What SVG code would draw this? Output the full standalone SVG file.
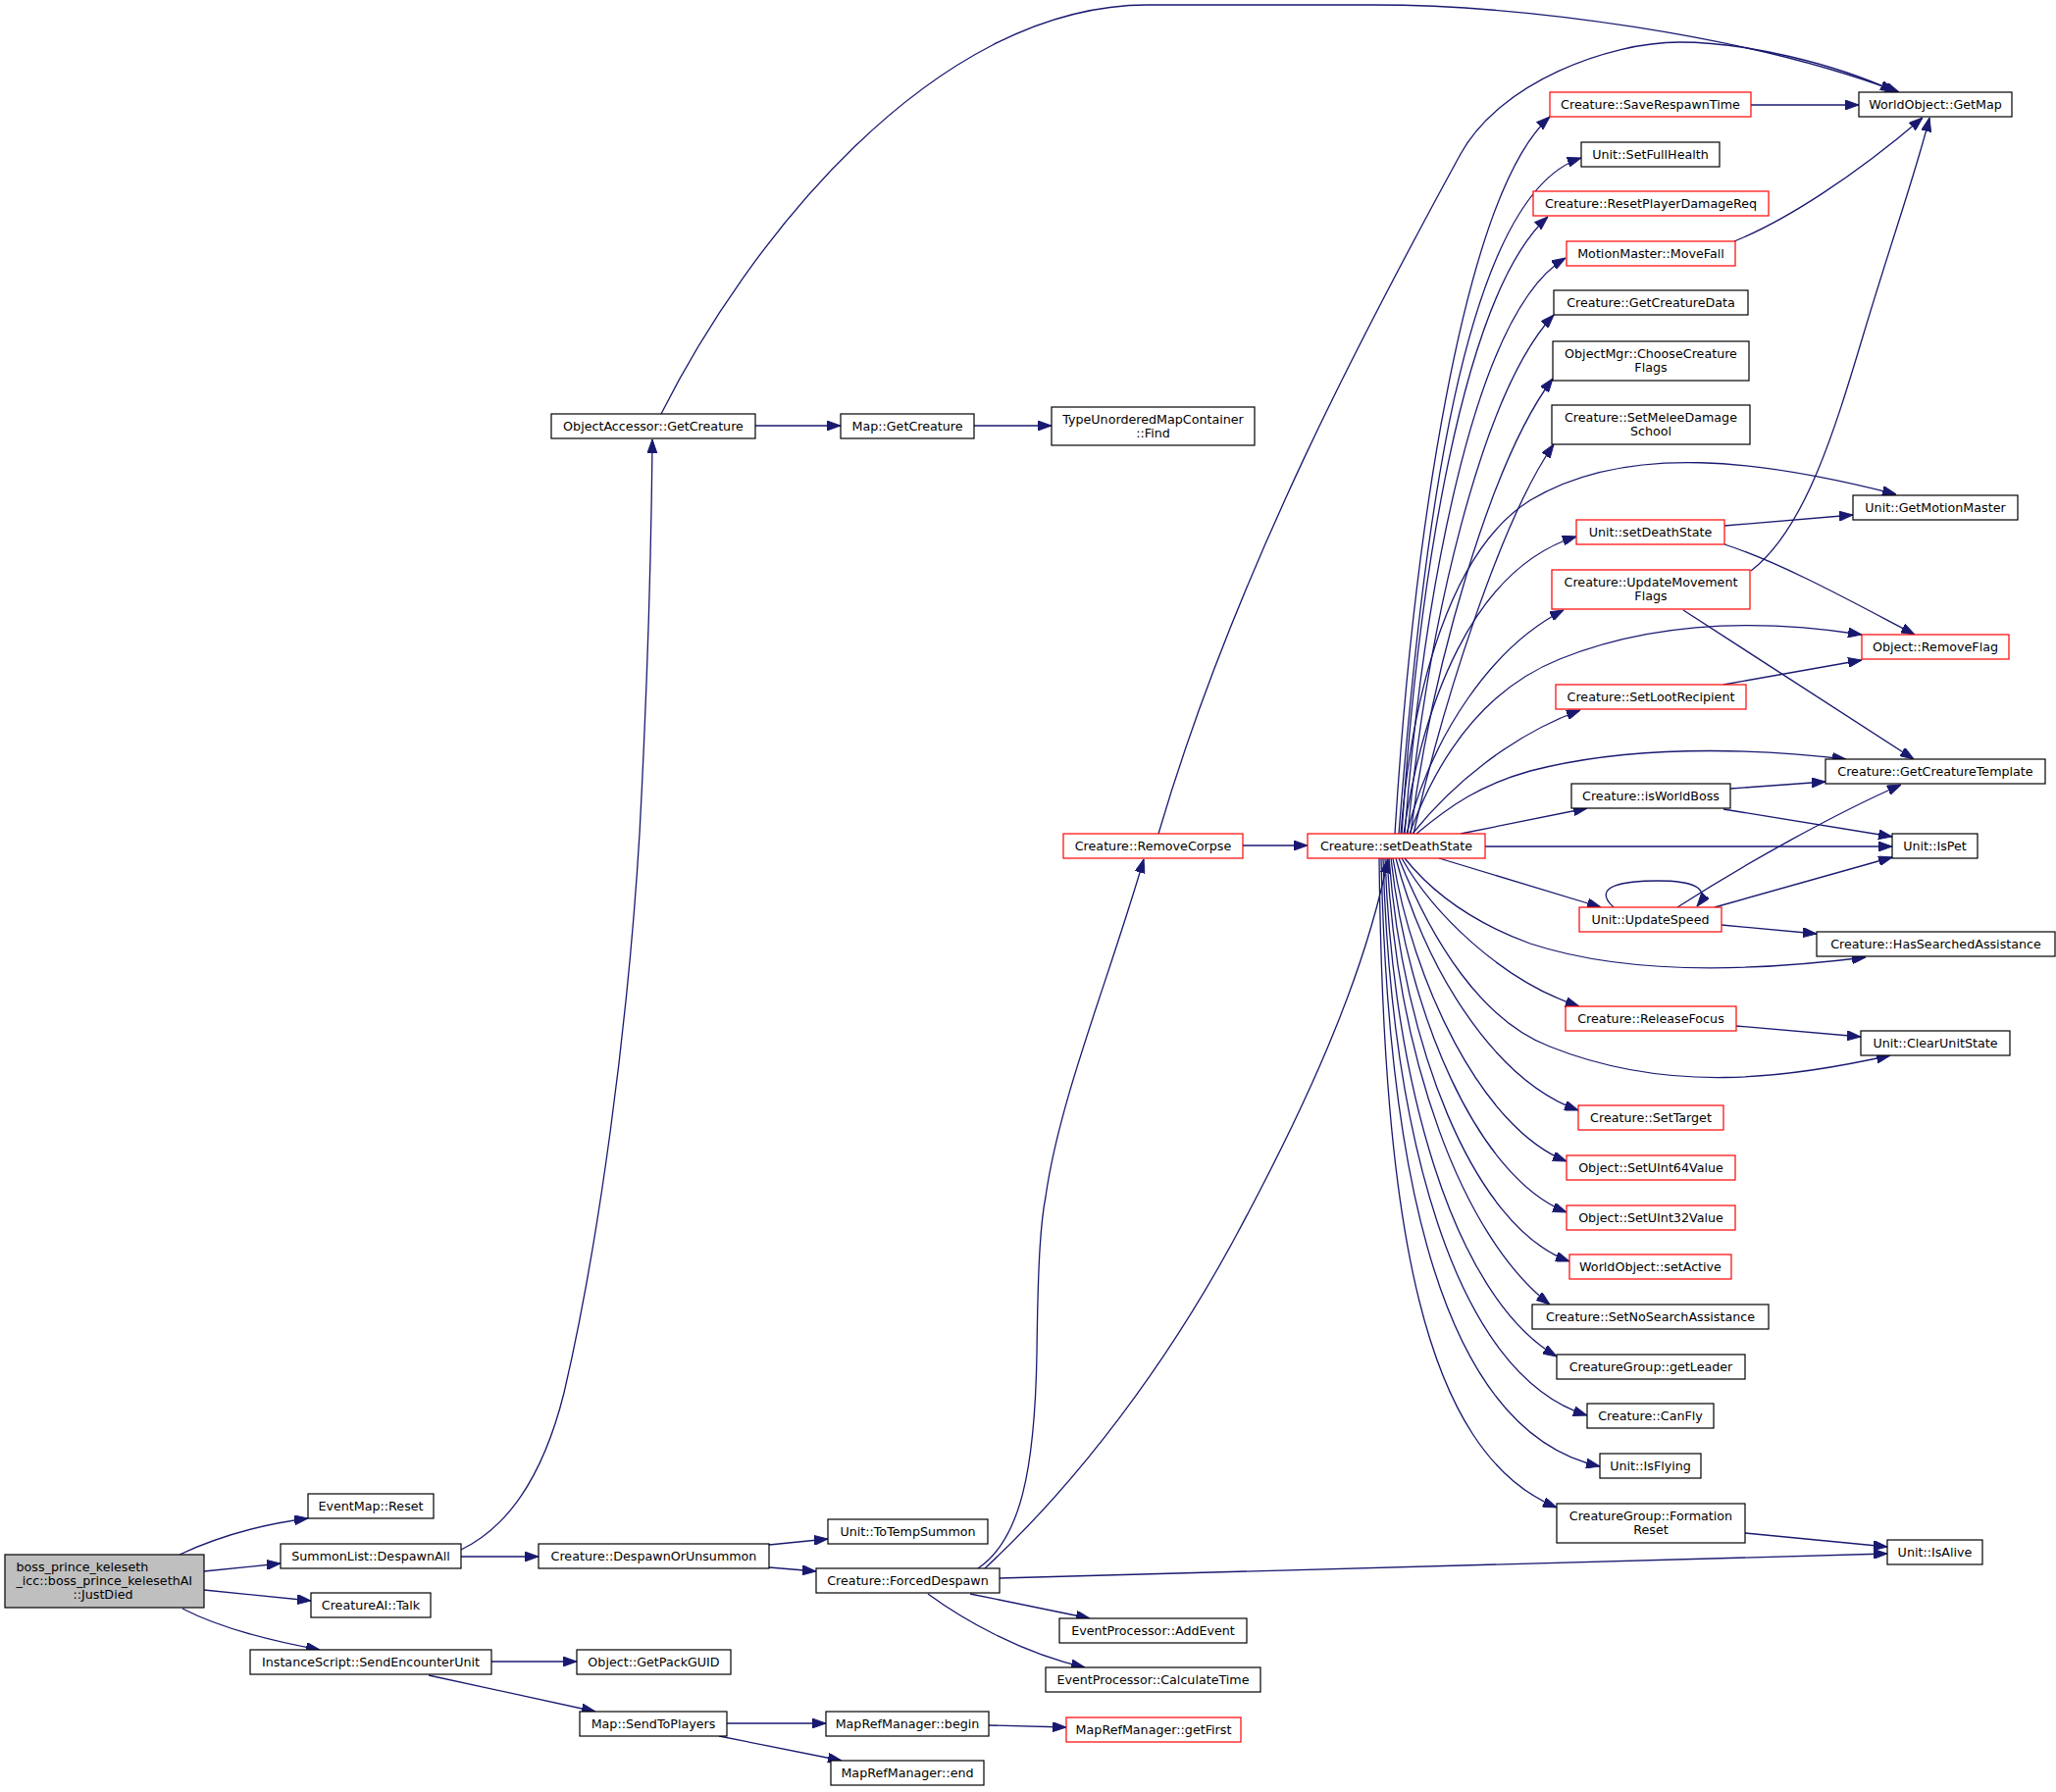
<svg xmlns="http://www.w3.org/2000/svg" width="2096" height="1827" viewBox="0 0 2096 1827">
<defs>
<style>
.n rect{fill:#fff;stroke:#000;stroke-width:1.2}
.r rect{fill:#fff;stroke:#ff0000;stroke-width:1.2}
.g rect{fill:#bfbfbf;stroke:#000;stroke-width:1.2}
text{font-family:"DejaVu Sans","Liberation Sans",sans-serif;font-size:12.7px;fill:#000;text-anchor:middle}
#edges path{fill:none;stroke:#191970;stroke-width:1.3;marker-end:url(#ah)}
</style>
<marker id="ah" markerUnits="userSpaceOnUse" markerWidth="14" markerHeight="10" refX="14" refY="5" orient="auto">
<path d="M0,0 L14,5 L0,10 z" fill="#191970" stroke="#191970" stroke-width="1"/>
</marker>
</defs>
<rect width="2096" height="1827" fill="#fff"/>
<g id="edges">
<path d="M183,1585 C215,1570 260,1555 314,1548"/>
<path d="M208,1602 L286,1594"/>
<path d="M208,1621 L317,1632"/>
<path d="M186,1640 C215,1655 260,1670 326,1682"/>
<path d="M470,1587 L549,1587"/>
<path d="M470,1580 C520,1556 555,1500 575,1420 C610,1270 640,1050 652,850 C660,700 664,560 665,448"/>
<path d="M770,434 L857,434"/>
<path d="M993,434 L1072,434"/>
<path d="M674,422 C760,250 950,5 1170,5 L1400,5 C1550,5 1780,35 1936,94"/>
<path d="M784,1575 L844,1569"/>
<path d="M784,1598 L832,1602"/>
<path d="M501,1694 L588,1694"/>
<path d="M437,1708 L607,1745"/>
<path d="M741,1757 L842,1757"/>
<path d="M733,1770 L858,1795"/>
<path d="M1008,1759 L1087,1761"/>
<path d="M1019,1609 L1924,1584"/>
<path d="M989,1625 L1111,1650"/>
<path d="M946,1625 C980,1650 1040,1685 1106,1700"/>
<path d="M997,1599 C1040,1570 1055,1500 1057,1380 C1058,1300 1060,1250 1066,1220 C1080,1120 1130,1000 1166,876"/>
<path d="M1004,1599 C1100,1510 1190,1390 1260,1260 C1330,1130 1390,1000 1415,876"/>
<path d="M1267,862 L1333,862"/>
<path d="M1181,850 C1260,580 1400,320 1489,157 C1529,84 1640,43 1712,43 C1780,43 1870,65 1931,93"/>
<path d="M1785,107 L1895,107"/>
<path d="M1768,246 C1820,225 1890,180 1960,120"/>
<path d="M1785,582 C1840,540 1870,440 1900,340 C1930,240 1955,170 1967,120"/>
<path d="M1758,536 L1889,525"/>
<path d="M1758,555 C1820,575 1900,620 1952,647"/>
<path d="M1716,622 L1951,774"/>
<path d="M1757,698 L1898,673"/>
<path d="M1764,804 L1861,797"/>
<path d="M1757,825 L1929,853"/>
<path d="M1770,1046 L1897,1057"/>
<path d="M1779,1563 L1924,1577"/>
<path d="M1645,925 C1620,902 1660,898 1690,898 C1725,898 1745,905 1730,924"/>
<path d="M1710,925 C1780,880 1870,830 1938,800"/>
<path d="M1748,925 L1929,874"/>
<path d="M1755,943 L1852,952"/>
<path d="M1422,850 C1440,560 1490,200 1580,119"/>
<path d="M1426,850 C1450,550 1490,200 1612,161"/>
<path d="M1429,850 C1445,600 1490,300 1578,221"/>
<path d="M1432,850 C1450,620 1500,320 1596,263"/>
<path d="M1435,850 C1455,640 1510,400 1584,321"/>
<path d="M1438,850 C1460,680 1520,470 1583,386"/>
<path d="M1441,850 C1470,720 1530,530 1584,453"/>
<path d="M1428,850 C1440,700 1480,560 1560,510 C1660,450 1800,470 1933,504"/>
<path d="M1431,850 C1450,720 1500,580 1607,547"/>
<path d="M1434,850 C1460,750 1520,660 1594,622"/>
<path d="M1437,850 C1470,760 1520,700 1590,672 C1690,632 1800,632 1898,647"/>
<path d="M1440,850 C1480,800 1540,750 1611,724"/>
<path d="M1444,850 C1480,820 1510,800 1560,786 C1660,760 1780,762 1882,774"/>
<path d="M1489,850 L1618,824"/>
<path d="M1514,863 L1929,863"/>
<path d="M1467,875 L1632,925"/>
<path d="M1432,875 C1460,910 1500,940 1560,962 C1660,995 1790,990 1902,976"/>
<path d="M1429,875 C1460,930 1530,1000 1610,1026"/>
<path d="M1426,875 C1460,960 1510,1040 1580,1067 C1700,1115 1820,1100 1927,1076"/>
<path d="M1423,875 C1450,980 1520,1100 1609,1132"/>
<path d="M1420,875 C1440,1000 1510,1150 1597,1184"/>
<path d="M1418,875 C1435,1030 1505,1200 1597,1236"/>
<path d="M1416,875 C1430,1060 1500,1250 1600,1286"/>
<path d="M1414,875 C1425,1080 1490,1260 1580,1330"/>
<path d="M1412,875 C1420,1100 1480,1320 1587,1383"/>
<path d="M1410,875 C1418,1150 1480,1400 1618,1443"/>
<path d="M1408,875 C1415,1200 1470,1460 1631,1495"/>
<path d="M1406,875 C1410,1250 1450,1480 1587,1537"/>
</g>
<g id="node-boss" class="g"><rect x="5" y="1585" width="203" height="54"/><text x="16.5" y="1601.5" style="text-anchor:start">boss_prince_keleseth</text><text x="16.5" y="1615.5" style="text-anchor:start">_icc::boss_prince_kelesethAI</text><text x="105" y="1630">::JustDied</text></g>
<g id="node-eventmap-reset" class="n"><rect x="314" y="1523" width="128" height="25"/><text x="378" y="1540">EventMap::Reset</text></g>
<g id="node-summonlist-despawnall" class="n"><rect x="286" y="1574" width="184" height="25"/><text x="378" y="1591">SummonList::DespawnAll</text></g>
<g id="node-creatureai-talk" class="n"><rect x="317" y="1624" width="122" height="25"/><text x="378" y="1641">CreatureAI::Talk</text></g>
<g id="node-sendencounterunit" class="n"><rect x="255" y="1682" width="246" height="25"/><text x="378" y="1699">InstanceScript::SendEncounterUnit</text></g>
<g id="node-objectaccessor-getcreature" class="n"><rect x="562" y="422" width="208" height="25"/><text x="666" y="439">ObjectAccessor::GetCreature</text></g>
<g id="node-map-getcreature" class="n"><rect x="857" y="422" width="136" height="25"/><text x="925" y="439">Map::GetCreature</text></g>
<g id="node-find" class="n"><rect x="1072" y="415" width="207" height="39"/><text x="1175.5" y="431.5">TypeUnorderedMapContainer</text><text x="1175.5" y="446">::Find</text></g>
<g id="node-despawnorunsummon" class="n"><rect x="549" y="1574" width="235" height="25"/><text x="666.5" y="1591">Creature::DespawnOrUnsummon</text></g>
<g id="node-totempsummon" class="n"><rect x="844" y="1549" width="163" height="25"/><text x="925.5" y="1566">Unit::ToTempSummon</text></g>
<g id="node-forceddespawn" class="n"><rect x="832" y="1599" width="187" height="25"/><text x="925.5" y="1616">Creature::ForcedDespawn</text></g>
<g id="node-addevent" class="n"><rect x="1080" y="1650" width="191" height="25"/><text x="1175.5" y="1667">EventProcessor::AddEvent</text></g>
<g id="node-calculatetime" class="n"><rect x="1066" y="1700" width="219" height="25"/><text x="1175.5" y="1717">EventProcessor::CalculateTime</text></g>
<g id="node-getpackguid" class="n"><rect x="588" y="1682" width="157" height="25"/><text x="666.5" y="1699">Object::GetPackGUID</text></g>
<g id="node-sendtoplayers" class="n"><rect x="591" y="1745" width="150" height="25"/><text x="666" y="1762">Map::SendToPlayers</text></g>
<g id="node-mrm-begin" class="n"><rect x="842" y="1745" width="166" height="25"/><text x="925" y="1762">MapRefManager::begin</text></g>
<g id="node-mrm-getfirst" class="r"><rect x="1087" y="1751" width="178" height="25"/><text x="1176" y="1768">MapRefManager::getFirst</text></g>
<g id="node-mrm-end" class="n"><rect x="847" y="1795" width="156" height="25"/><text x="925" y="1812">MapRefManager::end</text></g>
<g id="node-removecorpse" class="r"><rect x="1084" y="850" width="183" height="25"/><text x="1175.5" y="867">Creature::RemoveCorpse</text></g>
<g id="node-creature-setdeathstate" class="r"><rect x="1333" y="850" width="181" height="25"/><text x="1423.5" y="867">Creature::setDeathState</text></g>
<g id="node-getmap" class="n"><rect x="1895" y="94" width="156" height="25"/><text x="1973" y="111">WorldObject::GetMap</text></g>
<g id="node-saverespawntime" class="r"><rect x="1580" y="94" width="205" height="25"/><text x="1682.5" y="111">Creature::SaveRespawnTime</text></g>
<g id="node-setfullhealth" class="n"><rect x="1612" y="145" width="141" height="25"/><text x="1682.5" y="162">Unit::SetFullHealth</text></g>
<g id="node-resetplayerdamagereq" class="r"><rect x="1563" y="195" width="240" height="25"/><text x="1683" y="212">Creature::ResetPlayerDamageReq</text></g>
<g id="node-movefall" class="r"><rect x="1597" y="246" width="172" height="25"/><text x="1683" y="263">MotionMaster::MoveFall</text></g>
<g id="node-getcreaturedata" class="n"><rect x="1584" y="296" width="198" height="25"/><text x="1683" y="313">Creature::GetCreatureData</text></g>
<g id="node-choosecreatureflags" class="n"><rect x="1583" y="348" width="200" height="40"/><text x="1683" y="364.5">ObjectMgr::ChooseCreature</text><text x="1683" y="379">Flags</text></g>
<g id="node-setmeleedamageschool" class="n"><rect x="1582" y="413" width="202" height="40"/><text x="1683" y="429.5">Creature::SetMeleeDamage</text><text x="1683" y="444">School</text></g>
<g id="node-getmotionmaster" class="n"><rect x="1889" y="505" width="168" height="25"/><text x="1973" y="522">Unit::GetMotionMaster</text></g>
<g id="node-unit-setdeathstate" class="r"><rect x="1607" y="530" width="151" height="25"/><text x="1682.5" y="547">Unit::setDeathState</text></g>
<g id="node-updatemovementflags" class="r"><rect x="1582" y="581" width="202" height="40"/><text x="1683" y="597.5">Creature::UpdateMovement</text><text x="1683" y="612">Flags</text></g>
<g id="node-removeflag" class="r"><rect x="1898" y="647" width="150" height="25"/><text x="1973" y="664">Object::RemoveFlag</text></g>
<g id="node-setlootrecipient" class="r"><rect x="1586" y="698" width="194" height="25"/><text x="1683" y="715">Creature::SetLootRecipient</text></g>
<g id="node-getcreaturetemplate" class="n"><rect x="1861" y="774" width="224" height="25"/><text x="1973" y="791">Creature::GetCreatureTemplate</text></g>
<g id="node-isworldboss" class="n"><rect x="1602" y="799" width="162" height="25"/><text x="1683" y="816">Creature::isWorldBoss</text></g>
<g id="node-ispet" class="n"><rect x="1929" y="850" width="87" height="25"/><text x="1972.5" y="867">Unit::IsPet</text></g>
<g id="node-updatespeed" class="r"><rect x="1610" y="925" width="145" height="25"/><text x="1682.5" y="942">Unit::UpdateSpeed</text></g>
<g id="node-hassearchedassistance" class="n"><rect x="1852" y="950" width="243" height="25"/><text x="1973.5" y="967">Creature::HasSearchedAssistance</text></g>
<g id="node-releasefocus" class="r"><rect x="1596" y="1026" width="174" height="25"/><text x="1683" y="1043">Creature::ReleaseFocus</text></g>
<g id="node-clearunitstate" class="n"><rect x="1897" y="1051" width="152" height="25"/><text x="1973" y="1068">Unit::ClearUnitState</text></g>
<g id="node-settarget" class="r"><rect x="1609" y="1127" width="148" height="25"/><text x="1683" y="1144">Creature::SetTarget</text></g>
<g id="node-setuint64value" class="r"><rect x="1597" y="1178" width="172" height="25"/><text x="1683" y="1195">Object::SetUInt64Value</text></g>
<g id="node-setuint32value" class="r"><rect x="1597" y="1229" width="172" height="25"/><text x="1683" y="1246">Object::SetUInt32Value</text></g>
<g id="node-setactive" class="r"><rect x="1600" y="1279" width="165" height="25"/><text x="1682.5" y="1296">WorldObject::setActive</text></g>
<g id="node-setnosearchassistance" class="n"><rect x="1562" y="1330" width="241" height="25"/><text x="1682.5" y="1347">Creature::SetNoSearchAssistance</text></g>
<g id="node-getleader" class="n"><rect x="1587" y="1381" width="192" height="25"/><text x="1683" y="1398">CreatureGroup::getLeader</text></g>
<g id="node-canfly" class="n"><rect x="1618" y="1431" width="129" height="25"/><text x="1682.5" y="1448">Creature::CanFly</text></g>
<g id="node-isflying" class="n"><rect x="1631" y="1482" width="103" height="25"/><text x="1682.5" y="1499">Unit::IsFlying</text></g>
<g id="node-formationreset" class="n"><rect x="1587" y="1533" width="192" height="40"/><text x="1683" y="1549.5">CreatureGroup::Formation</text><text x="1683" y="1564">Reset</text></g>
<g id="node-isalive" class="n"><rect x="1924" y="1570" width="97" height="25"/><text x="1972.5" y="1587">Unit::IsAlive</text></g>
</svg>
